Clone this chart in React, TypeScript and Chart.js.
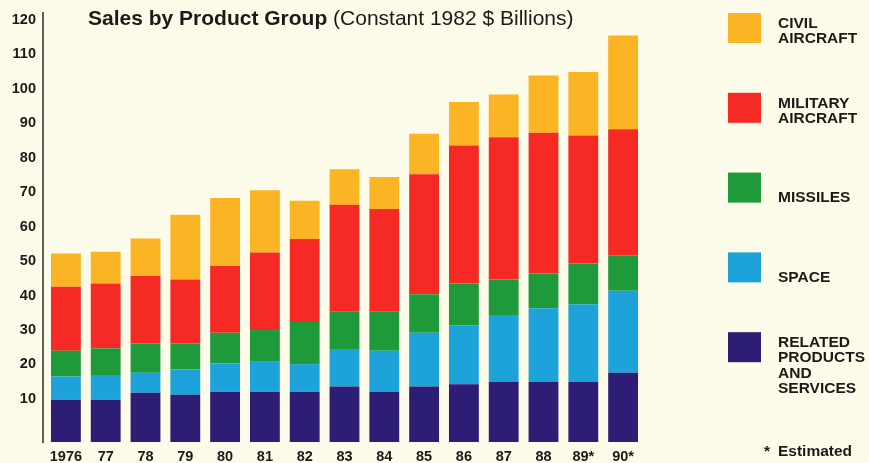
import React, { useEffect, useRef } from "react";
import { Chart, registerables } from "chart.js";

Chart.register(...registerables);

// ---- data (Constant 1982 $ Billions) ----
const years = ["1976", "77", "78", "79", "80", "81", "82", "83", "84", "85", "86", "87", "88", "89*", "90*"];
const relatedProducts = [9.7, 9.7, 11.8, 11.2, 12.1, 12.1, 12.1, 13.6, 12.1, 13.6, 14.3, 15.0, 15.0, 15.0, 17.6];
const space = [6.8, 7.0, 5.8, 7.4, 8.2, 8.9, 8.0, 10.9, 11.9, 15.6, 17.1, 19.4, 21.3, 22.5, 23.8];
const missiles = [7.5, 8.0, 8.5, 7.5, 8.9, 9.0, 12.2, 10.8, 11.3, 11.2, 12.1, 10.3, 10.1, 11.8, 10.3];
const militaryAircraft = [18.6, 18.8, 19.6, 18.6, 19.4, 22.5, 24.1, 31.1, 29.8, 34.8, 40.1, 41.3, 40.9, 37.2, 36.6];
const civilAircraft = [9.6, 9.2, 10.9, 18.8, 19.7, 18.1, 11.1, 10.3, 9.3, 11.8, 12.6, 12.4, 16.6, 18.4, 27.2];
const yTicks = [10, 20, 30, 40, 50, 60, 70, 80, 90, 100, 110, 120];

const titleBold = "Sales by Product Group";
const titleNormal = " (Constant 1982 $ Billions)";
const footnote = "Estimated";

const FONT = '"Liberation Sans", Arial, Helvetica, sans-serif';
const BG = "#fdfbea";
const INK = "#1c1a18";
const AXIS_FLOOR = -2.5;

const series = [
  { label: ["RELATED", "PRODUCTS", "AND", "SERVICES"], data: relatedProducts, color: "#2d1d74" },
  { label: ["SPACE"], data: space, color: "#1da2da" },
  { label: ["MISSILES"], data: missiles, color: "#1f9a3b" },
  { label: ["MILITARY", "AIRCRAFT"], data: militaryAircraft, color: "#f52a24" },
  { label: ["CIVIL", "AIRCRAFT"], data: civilAircraft, color: "#fbb424" },
];

const decorPlugin = {
  id: "decor",
  beforeDraw(chart: any) {
    const { ctx, width, height } = chart;
    ctx.save();
    ctx.fillStyle = BG;
    ctx.fillRect(0, 0, width, height);
    ctx.restore();
  },
  afterDraw(chart: any) {
    const { ctx, chartArea } = chart;
    ctx.save();
    // vertical axis line
    ctx.strokeStyle = "#3a3633";
    ctx.lineWidth = 1.6;
    ctx.beginPath();
    ctx.moveTo(chartArea.left - 3, 12);
    ctx.lineTo(chartArea.left - 3, chartArea.bottom + 1);
    ctx.stroke();

    // title
    ctx.fillStyle = INK;
    ctx.textBaseline = "alphabetic";
    ctx.textAlign = "left";
    ctx.font = `bold 21px ${FONT}`;
    ctx.fillText(titleBold, 88, 25);
    const w = ctx.measureText(titleBold).width;
    ctx.font = `21px ${FONT}`;
    ctx.fillText(titleNormal, 88 + w, 25);

    // legend (top to bottom: reverse stacking order)
    const legendItems = [...chart.data.datasets].reverse();
    const boxX = 728;
    ctx.textBaseline = "middle";
    ctx.font = `bold 15.5px ${FONT}`;
    legendItems.forEach((ds: any, i: number) => {
      const top = 13 + i * 79.8;
      ctx.fillStyle = ds.backgroundColor;
      ctx.fillRect(boxX, top, 33, 30);
      ctx.fillStyle = INK;
      const lines: string[] = ds.label;
      if (lines.length === 1) {
        ctx.fillText(lines[0], 778, top + 25);
      } else {
        lines.forEach((ln, j) => ctx.fillText(ln, 778, top + 10.5 + j * 15.3));
      }
    });
    ctx.fillText("*", 764, 452);
    ctx.fillText(footnote, 778, 452);
    ctx.restore();
  },
};

export default function App() {
  const ref = useRef<HTMLCanvasElement | null>(null);
  useEffect(() => {
    document.body.style.margin = "0";
    document.body.style.background = BG;
    const canvas = ref.current;
    if (!canvas) return;
    const chart = new Chart(canvas, {
      type: "bar",
      data: {
        labels: years,
        datasets: series.map((s, i) => ({
          label: s.label as any,
          data: s.data,
          backgroundColor: s.color,
          borderWidth: 0,
          categoryPercentage: 1,
          barPercentage: 0.75,
          ...(i === 0 ? { base: AXIS_FLOOR } : {}),
        })),
      },
      options: {
        responsive: false,
        animation: false,
        devicePixelRatio: 1,
        layout: { padding: { top: 20, right: 226, left: 0, bottom: 0 } },
        plugins: {
          legend: { display: false },
          title: { display: false },
          tooltip: { enabled: false },
        },
        scales: {
          x: {
            stacked: true,
            grid: { display: false, drawTicks: false },
            border: { display: false },
            ticks: {
              color: INK,
              font: { family: FONT, size: 14.5, weight: "bold" },
              padding: 6,
              maxRotation: 0,
              autoSkip: false,
            },
            afterFit: (s: any) => {
              s.height = 21;
            },
          },
          y: {
            stacked: true,
            min: AXIS_FLOOR,
            max: 120,
            grid: { display: false, drawTicks: false },
            border: { display: false },
            ticks: {
              color: INK,
              font: { family: FONT, size: 14.5, weight: "bold" },
              padding: 10,
            },
            afterBuildTicks: (s: any) => {
              s.ticks = yTicks.map((v) => ({ value: v }));
            },
            afterFit: (s: any) => {
              s.width = 46;
            },
          },
        },
      },
      plugins: [decorPlugin],
    });
    return () => chart.destroy();
  }, []);
  return <canvas ref={ref} width={869} height={463} style={{ display: "block" }} />;
}
